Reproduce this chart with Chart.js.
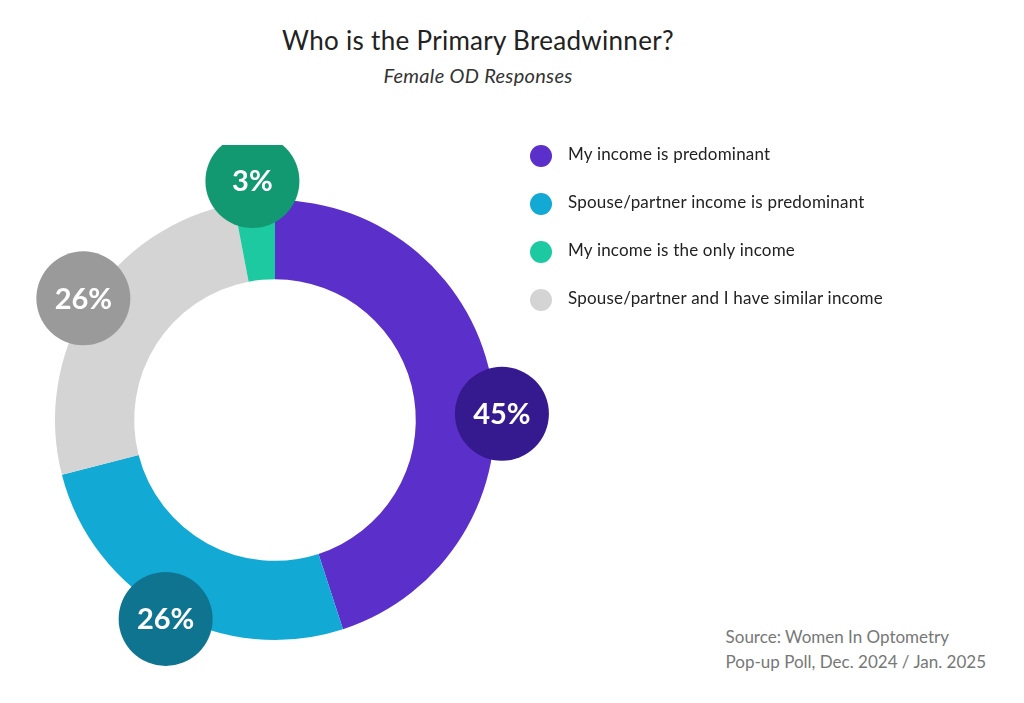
<!DOCTYPE html>
<html><head><meta charset="utf-8">
<script src="https://cdn.jsdelivr.net/npm/chart.js@4"></script>
<style>
body{margin:0;width:1024px;height:703px;background:#fff;font-family:Lato,"Open Sans",sans-serif;position:relative;overflow:hidden}
#title{position:absolute;left:0;width:956px;top:24px;text-align:center;font-size:26px;color:#222;letter-spacing:0.3px}
#sub{position:absolute;left:0;width:956px;top:63px;text-align:center;font-size:20px;font-style:italic;color:#333;letter-spacing:0.3px}
#wrap{position:absolute;left:0px;top:145px;width:550px;height:550px}
#legend{position:absolute;left:530px;top:143px;font-size:17px;color:#222;letter-spacing:0.2px}
.li{height:48px;display:flex;align-items:flex-start}
.dot{width:22px;height:22px;border-radius:50%;margin-right:16px;margin-top:2px}
#src{position:absolute;right:38px;top:624px;text-align:left;font-size:17px;color:#777;line-height:25px}
</style></head><body>
<div id="title">Who is the Primary Breadwinner?</div>
<div id="sub">Female OD Responses</div>
<div id="wrap"><canvas id="c"></canvas></div>
<div id="legend"></div>
<div id="src">Source: Women In Optometry<br>Pop-up Poll, Dec. 2024 / Jan. 2025</div>
<script>
const categories=["My income is predominant","Spouse/partner income is predominant","Spouse/partner and I have similar income","My income is the only income"];
const values=[45,26,26,3];
const colors=["#5b2fc9","#12aad4","#d4d4d4","#1dc9a0"];
const bubbleColors=["#35198f","#0f7490","#9a9a9a","#139971"];
const legendOrder=[0,1,3,2];
const bubbleShift=[0.13,0,0,0];
const lg=document.getElementById('legend');
legendOrder.forEach(i=>{lg.innerHTML+=`<div class="li"><div class="dot" style="background:${colors[i]}"></div><div>${categories[i]}</div></div>`});
const bubbles={id:'bubbles',afterDatasetsDraw(ch){
 const ctx=ch.ctx;const meta=ch.getDatasetMeta(0);
 meta.data.forEach((a,i)=>{
  const ang=(a.startAngle+a.endAngle)/2+bubbleShift[i];const r=a.outerRadius+(i==3?20:7);
  const x=a.x+Math.cos(ang)*r,y=a.y+Math.sin(ang)*r;
  ctx.save();ctx.beginPath();ctx.arc(x,y,47,0,Math.PI*2);ctx.fillStyle=bubbleColors[i];ctx.fill();
  ctx.fillStyle='#fff';ctx.font='bold 29px Lato';ctx.textAlign='center';ctx.textBaseline='middle';
  ctx.fillText(values[i]+'%',x,y+1);ctx.restore();
 });}};
new Chart(document.getElementById('c'),{type:'doughnut',
 data:{labels:categories,datasets:[{data:values,backgroundColor:colors,borderWidth:0}]},
 options:{responsive:true,maintainAspectRatio:false,animation:false,cutout:'64%',
  layout:{padding:55},plugins:{legend:{display:false},tooltip:{enabled:false}}},
 plugins:[bubbles]});
</script></body></html>
